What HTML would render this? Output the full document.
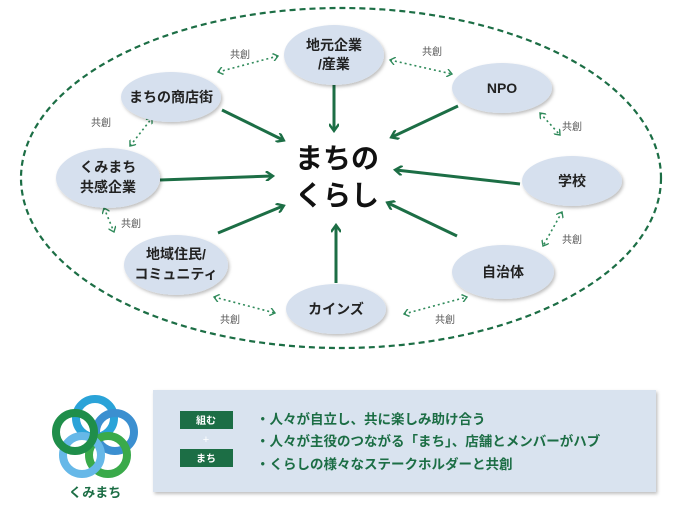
<!DOCTYPE html>
<html><head><meta charset="utf-8"><style>
html,body{margin:0;padding:0;background:#fff;}
svg{display:block;font-family:"Liberation Sans","Noto Sans CJK JP",sans-serif;}
</style></head><body>
<svg width="694" height="510" viewBox="0 0 694 510" xmlns="http://www.w3.org/2000/svg">
<defs>
<marker id="ah" markerWidth="10" markerHeight="10" refX="7" refY="5" orient="auto" markerUnits="userSpaceOnUse" viewBox="0 0 10 10">
<path d="M1,0 L8,5 L1,10" fill="none" stroke="#1c6e45" stroke-width="2.4"/></marker>
<marker id="ad" markerWidth="8" markerHeight="8" refX="6" refY="4" orient="auto-start-reverse" markerUnits="userSpaceOnUse" viewBox="0 0 8 8">
<path d="M1,0 L6,4 L1,8" fill="none" stroke="#2f8a5a" stroke-width="1.4"/></marker>
<filter id="sh" x="-20%" y="-20%" width="140%" height="140%"><feDropShadow dx="1.5" dy="2" stdDeviation="1.5" flood-color="#000" flood-opacity="0.25"/></filter>
</defs>
<ellipse cx="341" cy="178" rx="320" ry="170" fill="none" stroke="#1c6e45" stroke-width="2.2" stroke-dasharray="6,4"/>

<g stroke="#1c6e45" stroke-width="3" fill="none" marker-end="url(#ah)">
<line x1="334" y1="82" x2="334" y2="130"/>
<line x1="222" y1="110" x2="283" y2="140"/>
<line x1="160" y1="180" x2="272" y2="176"/>
<line x1="218" y1="233" x2="283" y2="206"/>
<line x1="336" y1="283" x2="336" y2="226"/>
<line x1="457" y1="236" x2="388" y2="203"/>
<line x1="520" y1="184" x2="396" y2="170"/>
<line x1="458" y1="106" x2="392" y2="137"/>
</g>

<g stroke="#2f8a5a" stroke-width="1.6" fill="none" stroke-dasharray="2,3" marker-start="url(#ad)" marker-end="url(#ad)">
<line x1="218" y1="72" x2="278" y2="56"/>
<line x1="390" y1="60" x2="452" y2="74"/>
<line x1="130" y1="146" x2="152" y2="118"/>
<line x1="540" y1="113" x2="560" y2="135"/>
<line x1="104" y1="208" x2="114" y2="232" />
<line x1="562" y1="212" x2="543" y2="246"/>
<line x1="214" y1="297" x2="275" y2="313"/>
<line x1="404" y1="314" x2="467" y2="297"/>
</g>
<g font-size="10" fill="#555" text-anchor="middle">
<text x="240" y="58">共創</text>
<text x="432" y="55">共創</text>
<text x="101" y="126">共創</text>
<text x="572" y="130">共創</text>
<text x="131" y="227">共創</text>
<text x="572" y="243">共創</text>
<text x="230" y="323">共創</text>
<text x="445" y="323">共創</text>
</g>

<g fill="#d6e0ee" filter="url(#sh)">
<ellipse cx="334" cy="55" rx="50" ry="30"/>
<ellipse cx="502" cy="88" rx="50" ry="25"/>
<ellipse cx="171" cy="97" rx="50" ry="25"/>
<ellipse cx="108" cy="178" rx="52" ry="30"/>
<ellipse cx="572" cy="181" rx="50" ry="25"/>
<ellipse cx="176" cy="265" rx="52" ry="30"/>
<ellipse cx="503" cy="272" rx="51" ry="27"/>
<ellipse cx="336" cy="309" rx="50" ry="25"/>
</g>
<g font-size="14" font-weight="bold" fill="#222" text-anchor="middle">
<text x="334" y="50">地元企業</text><text x="334" y="69">/産業</text>
<text x="502" y="93">NPO</text>
<text x="171" y="102">まちの商店街</text>
<text x="108" y="172">くみまち</text><text x="108" y="192">共感企業</text>
<text x="572" y="186">学校</text>
<text x="176" y="259">地域住民/</text><text x="176" y="279">コミュニティ</text>
<text x="503" y="277">自治体</text>
<text x="336" y="314">カインズ</text>
</g>
<g font-size="28" font-weight="bold" fill="#111" text-anchor="middle">
<text x="337" y="168">まちの</text>
<text x="337" y="205">くらし</text>
</g>

<g fill="none" stroke-width="8">
<circle cx="95" cy="418" r="19" stroke="#2aa3d8"/>
<circle cx="115" cy="432" r="19" stroke="#3b8fd0"/>
<circle cx="108" cy="455" r="19" stroke="#3aaa4a"/>
<circle cx="82" cy="455" r="19" stroke="#66b8e8"/>
<circle cx="75" cy="432" r="19" stroke="#1f8e4a"/>
</g>
<text x="95" y="497" font-size="13" font-weight="bold" fill="#1c6e45" text-anchor="middle">くみまち</text>

<rect x="153" y="390" width="503" height="102" fill="#d9e3ef" filter="url(#sh)"/>
<rect x="180" y="411" width="53" height="18" fill="#1c6e45"/>
<rect x="180" y="449" width="53" height="18" fill="#1c6e45"/>
<text x="206" y="424" font-size="10" font-weight="bold" fill="#fff" text-anchor="middle">組む</text>
<text x="206" y="462" font-size="10" font-weight="bold" fill="#fff" text-anchor="middle">まち</text>
<text x="206" y="443" font-size="11" fill="#fff" text-anchor="middle">+</text>
<g font-size="13.5" font-weight="bold" fill="#1c6e45">
<text x="256" y="424">・人々が自立し、共に楽しみ助け合う</text>
<text x="256" y="446">・人々が主役のつながる「まち」、店舗とメンバーがハブ</text>
<text x="256" y="469">・くらしの様々なステークホルダーと共創</text>
</g>
</svg>
</body></html>
